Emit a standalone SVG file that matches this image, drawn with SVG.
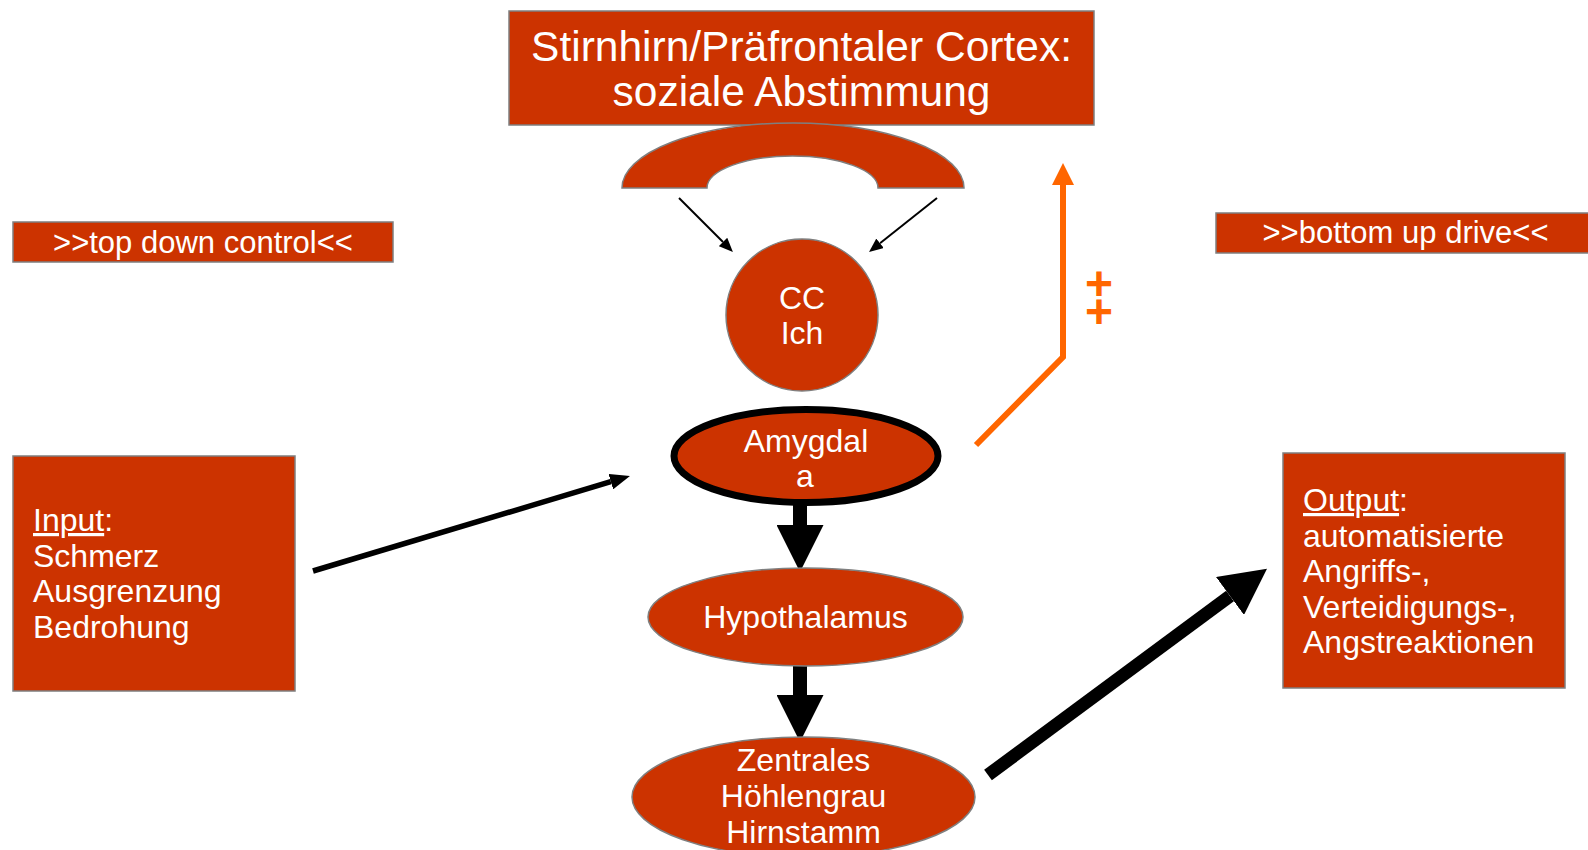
<svg xmlns="http://www.w3.org/2000/svg" width="1588" height="850" viewBox="0 0 1588 850">
<style>
.box{fill:#CC3300;stroke:#7F7F7F;stroke-width:1.5}
.t{font-family:"Liberation Sans",Arial,sans-serif;fill:#FFFFFF;font-size:32px}
.c{text-anchor:middle}
.blk{stroke:#000000;fill:none}
</style>
<defs>
<marker id="hThin" markerUnits="userSpaceOnUse" markerWidth="14" markerHeight="12" refX="0" refY="6" orient="auto"><path d="M0,0 L14,6 L0,12 Z" fill="#000"/></marker>
<marker id="hIn" markerUnits="userSpaceOnUse" markerWidth="20" markerHeight="16" refX="0" refY="8" orient="auto"><path d="M0,0 L20,8 L0,16 Z" fill="#000"/></marker>
<marker id="hBig" markerUnits="userSpaceOnUse" markerWidth="47" markerHeight="47" refX="0" refY="23.5" orient="auto"><path d="M0,0 L47,23.5 L0,47 Z" fill="#000"/></marker>
<marker id="hOut" markerUnits="userSpaceOnUse" markerWidth="46" markerHeight="47" refX="0" refY="23.5" orient="auto"><path d="M0,0 L46,23.5 L0,47 Z" fill="#000"/></marker>
<marker id="hOr" markerUnits="userSpaceOnUse" markerWidth="22" markerHeight="22" refX="0" refY="11" orient="auto"><path d="M0,0 L22,11 L0,22 Z" fill="#FF6600"/></marker>
</defs>
<rect width="1588" height="850" fill="#FFFFFF"/>

<g id="connectors">
<line class="blk" x1="679" y1="198" x2="723" y2="242" stroke-width="2" marker-end="url(#hThin)"/>
<line class="blk" x1="937" y1="198" x2="880" y2="243.3" stroke-width="2" marker-end="url(#hThin)"/>
<line class="blk" x1="313" y1="571" x2="610.8" y2="481.7" stroke-width="5.5" marker-end="url(#hIn)"/>
<line class="blk" x1="800" y1="503" x2="800" y2="525" stroke-width="14" marker-end="url(#hBig)"/>
<line class="blk" x1="800" y1="666" x2="800" y2="695" stroke-width="14" marker-end="url(#hBig)"/>
<line class="blk" x1="988" y1="775" x2="1230" y2="596" stroke-width="13" marker-end="url(#hOut)"/>
<polyline points="976,445 1063,357 1063,185" fill="none" stroke="#FF6600" stroke-width="6" marker-end="url(#hOr)"/>
</g>

<g id="plus">
<text font-family="Liberation Sans, Arial, sans-serif" font-weight="bold" font-size="48" fill="#FF6600" text-anchor="middle"><tspan x="1099" y="299.5">+</tspan><tspan x="1099" y="328">+</tspan></text>
</g>

<g id="cortex">
<rect class="box" x="509" y="11" width="585" height="114"/>
<text class="t c" x="801.5" y="61" style="font-size:42.5px">Stirnhirn/Präfrontaler Cortex:</text>
<text class="t c" x="801.5" y="106" style="font-size:42.5px">soziale Abstimmung</text>
</g>

<g id="arch">
<path class="box" d="M622,188 A171,65 0 0 1 964,188 L878,188 A85.5,32 0 0 0 707,188 Z"/>
</g>

<g id="topdown">
<rect class="box" x="13" y="222" width="380" height="40"/>
<text class="t c" x="203" y="253" style="font-size:31px">&gt;&gt;top down control&lt;&lt;</text>
</g>

<g id="bottomup">
<rect class="box" x="1216" y="213" width="380" height="40"/>
<text class="t c" x="1405.5" y="243" style="font-size:31px">&gt;&gt;bottom up drive&lt;&lt;</text>
</g>

<g id="cc">
<circle class="box" cx="802" cy="315" r="76"/>
<text class="t c" x="802" y="309">CC</text>
<text class="t c" x="802" y="344">Ich</text>
</g>

<g id="amygdala">
<ellipse cx="806" cy="456" rx="132" ry="46.5" fill="#CC3300" stroke="#000000" stroke-width="7"/>
<text class="t c" x="806" y="452">Amygdal</text>
<text class="t c" x="805" y="487">a</text>
</g>

<g id="hypothalamus">
<ellipse class="box" cx="805.5" cy="617" rx="157.5" ry="49"/>
<text class="t c" x="805.5" y="628">Hypothalamus</text>
</g>

<g id="zentrales">
<ellipse class="box" cx="803.5" cy="797" rx="171.5" ry="60"/>
<text class="t c" x="803.5" y="771">Zentrales</text>
<text class="t c" x="803.5" y="807">Höhlengrau</text>
<text class="t c" x="803.5" y="843">Hirnstamm</text>
</g>

<g id="input">
<rect class="box" x="13" y="456" width="282" height="235"/>
<text class="t" x="33" y="531"><tspan text-decoration="underline">Input</tspan>:</text>
<text class="t" x="33" y="566.5">Schmerz</text>
<text class="t" x="33" y="602">Ausgrenzung</text>
<text class="t" x="33" y="637.5">Bedrohung</text>
</g>

<g id="output">
<rect class="box" x="1283" y="453" width="282" height="235"/>
<text class="t" x="1303" y="511"><tspan text-decoration="underline">Output</tspan>:</text>
<text class="t" x="1303" y="546.5">automatisierte</text>
<text class="t" x="1303" y="582">Angriffs-,</text>
<text class="t" x="1303" y="617.5">Verteidigungs-,</text>
<text class="t" x="1303" y="653">Angstreaktionen</text>
</g>
</svg>
